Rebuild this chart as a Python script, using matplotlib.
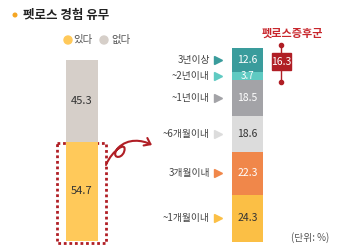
import matplotlib.pyplot as plt
from matplotlib.patches import Rectangle, FancyArrowPatch, Circle
from matplotlib.path import Path
import numpy as np

plt.rcParams['font.family'] = ['Noto Sans CJK KR', 'DejaVu Sans']

# left bar: 있다 / 없다
left_labels = ["있다", "없다"]
left_values = [54.7, 45.3]
left_colors = ["#ffc95a", "#d6cfc9"]

# right stack, bottom to top
dur_labels = ["~1개월이내", "3개월이내", "~6개월이내", "~1년이내", "~2년이내", "3년이상"]
dur_values = [24.3, 22.3, 18.6, 18.5, 3.7, 12.6]
dur_colors = ["#fbbf45", "#f0874a", "#dcdcdc", "#a3a3a7", "#5fcac2", "#3a9c9c"]
dur_text = ["#333333", "white", "#333333", "white", "white", "white"]

syndrome = 16.3
red = "#b01e25"

W, H = 346, 247
fig = plt.figure(figsize=(W / 100, H / 100), dpi=100)

def px_axes(x0, y0, x1, y1):
    return fig.add_axes([x0 / W, 1 - y1 / H, (x1 - x0) / W, (y1 - y0) / H])

# overlay for annotations in pixel coords
ov = fig.add_axes([0, 0, 1, 1])
ov.set_xlim(0, W)
ov.set_ylim(H, 0)
ov.axis("off")

# left bar
axl = px_axes(66, 60, 98, 241)
bottom = 0
for v, c in zip(left_values, left_colors):
    axl.bar(0, v, 1, bottom=bottom, color=c)
    axl.text(0, bottom + v / 2, f"{v}", ha="center", va="center", fontsize=8, color="#333333")
    bottom += v
axl.set_xlim(-0.5, 0.5)
axl.set_ylim(0, 100)
axl.axis("off")

# right stacked bar
axr = px_axes(232, 48, 263, 242)
bottom = 0
for lab, v, c, tc in zip(dur_labels, dur_values, dur_colors, dur_text):
    axr.bar(0, v, 1, bottom=bottom, color=c)
    fs = 7 if v < 5 else 7.5
    axr.text(0, bottom + v / 2, f"{v}", ha="center", va="center", fontsize=fs, color=tc)
    axr.annotate(lab, xy=(-1.22, bottom + v / 2), xycoords="data", ha="right", va="center",
                 fontsize=7, color="#444444", annotation_clip=False)
    axr.plot([-0.95], [bottom + v / 2], marker=">", color=c, markersize=5.5, clip_on=False)
    bottom += v
axr.set_xlim(-0.5, 0.5)
axr.set_ylim(0, 100)
axr.axis("off")

# title and legend
ov.add_patch(Circle((15, 15), 1.8, color="#f5a623"))
ov.text(23, 15, "펫로스 경험 유무", fontsize=9, fontweight="bold", va="center", color="#222222")
ov.add_patch(Circle((68, 40), 4, color=left_colors[0]))
ov.text(73, 40, left_labels[0], fontsize=7.5, va="center", color="#555555")
ov.add_patch(Circle((104, 40), 4, color=left_colors[1]))
ov.text(111, 40, left_labels[1], fontsize=7.5, va="center", color="#555555")

# dotted highlight box
ov.add_patch(Rectangle((57, 143), 49, 100, fill=False, ec=red, lw=2, ls=(0, (1, 1))))

# curly arrow
verts = [(106, 165), (112, 150), (128, 140), (124, 152),
         (121, 160), (110, 158), (118, 148),
         (128, 138), (142, 140), (152, 145)]
codes = [Path.MOVETO] + [Path.CURVE4] * 9
arr = FancyArrowPatch(path=Path(verts, codes), arrowstyle="->,head_length=4,head_width=3",
                      color=red, lw=1.5)
ov.add_patch(arr)

# 펫로스증후군 marker
ov.text(292, 33, "펫로스증후군", fontsize=8, fontweight="bold", color="#c8262c", ha="center", va="center")
ov.plot([281, 281], [45, 82], color=red, lw=1)
ov.plot([281, 281], [45, 82], "o", color=red, markersize=3)
ov.add_patch(Rectangle((271.5, 53), 19, 17, color=red))
ov.text(281, 61.5, f"{syndrome}", fontsize=7.5, color="white", ha="center", va="center")

ov.text(310, 238, "(단위: %)", fontsize=7, color="#555555", ha="center", va="center")

fig.savefig("out.png", dpi=100)
